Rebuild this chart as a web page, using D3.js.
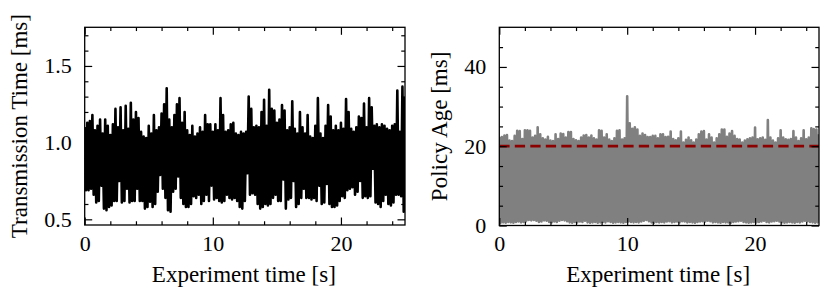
<!DOCTYPE html>
<html>
<head>
<meta charset="utf-8">
<script src="https://cdn.jsdelivr.net/npm/d3@7"></script>
<style>
  body { margin: 0; background: #fff; }
  svg text { font-family: "Liberation Serif", "Times New Roman", Times, "DejaVu Serif", serif; fill: #000; }
</style>
</head>
<body>
<svg id="chart" width="830" height="302"></svg>
<script>
// samples are 0.1 s apart, 0 .. 25 s
const SAMPLE_STEP = 0.1;

// Transmission time [ms]
const transmissionMs = [
  1.10, 0.69, 1.13, 0.69, 1.14, 0.70, 1.18, 0.66, 1.08, 0.61,
  1.11, 0.62, 1.15, 0.72, 1.06, 0.57, 1.15, 0.56, 1.11, 0.58,
  1.05, 0.59, 1.12, 0.62, 1.22, 0.62, 1.10, 0.75, 1.23, 0.61,
  1.08, 0.62, 1.24, 0.70, 1.09, 0.61, 1.26, 0.62, 1.15, 0.62,
  1.20, 0.70, 1.16, 0.62, 1.07, 0.62, 1.04, 0.57, 1.03, 0.58,
  1.11, 0.615, 1.06, 0.58, 1.18, 0.60, 1.08, 0.68, 1.10, 0.79,
  1.19, 0.70, 1.25, 0.64, 1.355, 0.56, 1.15, 0.55, 1.10, 0.68,
  1.18, 0.70, 1.25, 0.78, 1.29, 0.64, 1.13, 0.60, 1.20, 0.58,
  1.08, 0.58, 1.05, 0.60, 1.11, 0.65, 1.04, 0.64, 1.06, 0.66,
  1.10, 0.60, 1.07, 0.62, 1.18, 0.66, 1.12, 0.62, 1.12, 0.72,
  1.07, 0.63, 1.12, 0.64, 1.08, 0.62, 1.29, 0.61, 1.18, 0.62,
  1.07, 0.66, 1.08, 0.64, 1.12, 0.63, 1.13, 0.64, 1.06, 0.62,
  1.05, 0.58, 1.07, 0.57, 1.06, 0.62, 1.07, 0.80, 1.30, 0.66,
  1.22, 0.67, 1.10, 0.66, 1.11, 0.60, 1.10, 0.57, 1.20, 0.58,
  1.28, 0.60, 1.11, 0.59, 1.345, 0.60, 1.22, 0.64, 1.21, 0.66,
  1.13, 0.62, 1.15, 0.62, 1.245, 0.76, 1.21, 0.57, 1.08, 0.63,
  1.10, 0.64, 1.27, 0.75, 1.09, 0.58, 1.06, 0.60, 1.20, 0.64,
  1.10, 0.70, 1.06, 0.64, 1.18, 0.64, 1.04, 0.63, 1.03, 0.64,
  1.11, 0.62, 1.29, 0.72, 1.06, 0.60, 1.03, 0.61, 1.11, 0.73,
  1.245, 0.60, 1.17, 0.58, 1.08, 0.58, 1.11, 0.59, 1.08, 0.62,
  1.13, 0.65, 1.09, 0.64, 1.285, 0.69, 1.20, 0.70, 1.09, 0.71,
  1.07, 0.66, 1.10, 0.68, 1.17, 0.75, 1.16, 0.64, 1.255, 0.65,
  1.10, 0.64, 1.29, 0.65, 1.23, 0.83, 1.11, 0.61, 1.12, 0.60,
  1.10, 0.58, 1.12, 0.62, 1.11, 0.66, 1.09, 0.60, 1.08, 0.59,
  1.11, 0.61, 1.12, 0.66, 1.34, 0.66, 1.07, 0.65, 1.365, 0.55,
  1.30
];

// Policy age [ms]
const policyAgeMs = [
  22.4, 0.7, 22.3, 0.8, 22.7, 0.7, 22.8, 0.9, 21.4, 0.8,
  21.3, 0.7, 22.6, 0.9, 23.9, 1.0, 23.8, 0.8, 21.8, 0.9,
  24.0, 1.1, 24.0, 1.4, 23.9, 1.3, 22.2, 1.4, 22.6, 1.2,
  24.8, 0.9, 23.0, 1.0, 22.0, 1.3, 21.7, 1.2, 22.4, 0.9,
  21.4, 0.8, 21.3, 1.0, 23.0, 0.9, 21.8, 1.2, 23.2, 1.4,
  23.1, 1.3, 22.2, 1.1, 23.6, 0.8, 23.6, 0.7, 21.8, 0.9,
  21.5, 0.8, 21.3, 1.0, 22.2, 0.9, 22.7, 1.2, 22.8, 0.8,
  22.2, 0.7, 22.7, 0.8, 22.0, 0.9, 21.7, 0.7, 24.0, 0.8,
  23.9, 0.9, 22.2, 0.8, 23.0, 1.1, 21.7, 0.9, 21.3, 0.7,
  22.0, 0.8, 23.9, 0.9, 24.0, 0.8, 21.7, 0.7, 22.0, 0.9,
  32.6, 1.0, 25.8, 0.9, 24.4, 0.8, 24.8, 0.9, 24.2, 0.8,
  22.6, 1.0, 23.2, 1.2, 22.8, 1.4, 22.3, 1.1, 22.3, 0.8,
  22.6, 0.7, 22.6, 0.9, 22.0, 0.8, 23.0, 0.9, 23.0, 0.8,
  22.3, 1.0, 22.4, 1.1, 23.7, 0.8, 21.8, 0.9, 21.5, 1.0,
  22.0, 0.8, 23.7, 1.1, 20.9, 1.0, 21.6, 0.8, 22.2, 0.9,
  21.5, 0.8, 20.9, 0.7, 21.7, 0.9, 23.0, 1.0, 23.7, 1.1,
  23.8, 1.0, 21.7, 1.2, 23.0, 1.1, 22.2, 0.8, 20.9, 0.9,
  22.0, 0.8, 23.0, 0.7, 24.2, 0.9, 24.2, 0.8, 22.35, 0.8,
  23.2, 0.7, 23.85, 0.9, 22.6, 1.0, 21.8, 1.1, 21.7, 1.2,
  20.9, 0.9, 21.4, 0.8, 21.75, 0.7, 22.0, 0.8, 22.2, 0.9,
  24.7, 0.8, 21.75, 0.9, 22.0, 1.0, 22.2, 1.2, 21.6, 0.9,
  26.6, 0.8, 22.2, 1.0, 21.4, 1.1, 20.9, 1.2, 22.0, 1.0,
  24.0, 0.8, 22.2, 0.7, 21.75, 0.8, 21.6, 0.9, 21.8, 0.8,
  23.8, 0.7, 22.2, 0.9, 21.3, 0.8, 22.0, 1.0, 24.0, 1.2,
  21.75, 1.1, 22.2, 0.9, 24.5, 0.8, 24.3, 0.7, 24.2, 0.8,
  23.0
];

const policyLimitMs = 20;

const xMajor = [0, 10, 20];
const xMinor = [2, 4, 6, 8, 12, 14, 16, 18, 22, 24];
const leftYMajor = [0.5, 1.0, 1.5];
const leftYMinor = [0.6, 0.7, 0.8, 0.9, 1.1, 1.2, 1.3, 1.4, 1.6, 1.7];
const rightYMajor = [0, 20, 40];
const rightYMinor = [5, 10, 15, 25, 30, 35, 45];

const xLabel = "Experiment time [s]";
const leftYLabel = "Transmission Time [ms]";
const rightYLabel = "Policy Age [ms]";

const FONT = '"Liberation Serif", "Times New Roman", Times, "DejaVu Serif", serif';
const svg = d3.select("#chart");
const MAJOR = 7.5, MINOR = 3.75;

function drawPanel(p) {
  const x = d3.scaleLinear().domain([0, 25]).range([p.left, p.right]);
  const y = d3.scaleLinear().domain(p.yDomain).range([p.bottom, p.top]);
  const g = svg.append("g");

  g.append("clipPath").attr("id", p.id + "-clip")
    .append("rect")
    .attr("x", p.left).attr("y", p.top)
    .attr("width", p.right - p.left).attr("height", p.bottom - p.top);

  const line = d3.line().x((d, i) => x(i * SAMPLE_STEP)).y(d => y(d));
  g.append("path").datum(p.values)
    .attr("clip-path", `url(#${p.id}-clip)`)
    .attr("d", line)
    .attr("fill", "none").attr("stroke", p.color)
    .attr("stroke-width", 2.6).attr("stroke-linejoin", "round");

  if (p.limit != null) {
    g.append("line")
      .attr("x1", x(0)).attr("x2", x(25))
      .attr("y1", y(p.limit)).attr("y2", y(p.limit))
      .attr("stroke", "#8b0000").attr("stroke-width", 2.8)
      .attr("stroke-dasharray", "10.3,5.2");
  }

  // ticks point inwards on all four sides, labels only bottom/left
  const axis = (fn, scale, vals, size, tr, fmt) => {
    const a = g.append("g").attr("transform", tr)
      .call(fn(scale).tickValues(vals).tickSize(-size).tickPadding(9)
        .tickFormat(fmt || ""));
    a.select(".domain").remove();
    a.attr("font-size", 22).attr("font-family", FONT);
    a.selectAll("line").attr("stroke", "#000").attr("stroke-width", 1.2);
    return a;
  };
  axis(d3.axisBottom, x, xMajor, MAJOR, `translate(0,${p.bottom})`, d3.format("d"))
    .selectAll("text").attr("y", 10);
  axis(d3.axisBottom, x, xMinor, MINOR, `translate(0,${p.bottom})`);
  axis(d3.axisTop, x, xMajor, MAJOR, `translate(0,${p.top})`);
  axis(d3.axisTop, x, xMinor, MINOR, `translate(0,${p.top})`);
  axis(d3.axisLeft, y, p.yMajor, MAJOR, `translate(${p.left},0)`, p.yFormat)
    .selectAll("text").attr("x", -13);
  axis(d3.axisLeft, y, p.yMinor, MINOR, `translate(${p.left},0)`);
  axis(d3.axisRight, y, p.yMajor, MAJOR, `translate(${p.right},0)`);
  axis(d3.axisRight, y, p.yMinor, MINOR, `translate(${p.right},0)`);

  g.append("rect")
    .attr("x", p.left).attr("y", p.top)
    .attr("width", p.right - p.left).attr("height", p.bottom - p.top)
    .attr("fill", "none").attr("stroke", "#000").attr("stroke-width", 1.3);

  g.append("text")
    .attr("x", (p.left + p.right) / 2 - 1).attr("y", 282)
    .attr("text-anchor", "middle").attr("font-size", 23).attr("font-family", FONT)
    .text(xLabel);

  g.append("text")
    .attr("transform", `translate(${p.yLabelX},${(p.top + p.bottom) / 2}) rotate(-90)`)
    .attr("text-anchor", "middle").attr("font-size", 23).attr("font-family", FONT)
    .text(p.yLabel);
}

drawPanel({
  id: "tx", left: 84.7, right: 405, top: 27.3, bottom: 225,
  yDomain: [0.463, 1.752], values: transmissionMs, color: "#000",
  yMajor: leftYMajor, yMinor: leftYMinor, yFormat: d3.format(".1f"),
  yLabel: leftYLabel, yLabelX: 27
});

drawPanel({
  id: "age", left: 499.3, right: 819, top: 27.3, bottom: 225.5,
  yDomain: [0, 50], values: policyAgeMs, color: "#808080", limit: policyLimitMs,
  yMajor: rightYMajor, yMinor: rightYMinor, yFormat: d3.format("d"),
  yLabel: rightYLabel, yLabelX: 447
});
</script>
</body>
</html>
